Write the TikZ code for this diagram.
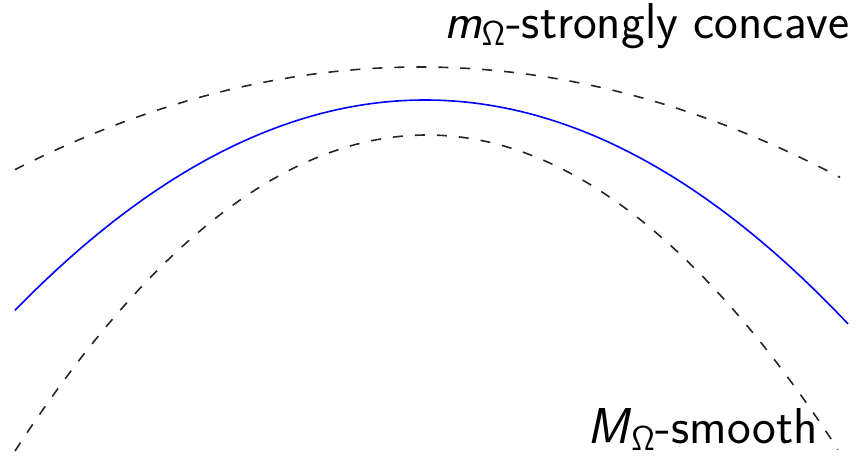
\documentclass[tikz,border=0pt]{standalone}
\begin{document}
\begin{tikzpicture}[x=0.5pt,y=-0.5pt,
  dashcurve/.style={draw=black!85, line width=0.8pt, dash pattern=on 5pt off 6pt},
  bluecurve/.style={draw=blue, line width=0.8pt},
  lbl/.style={inner sep=0pt, font=\sffamily\fontsize{25.2}{30}\selectfont}]
\useasboundingbox (0,0) rectangle (860,466);
\draw[bluecurve] plot[domain=15:848, samples=120, smooth] (\x, {100 + 0.00125*(\x-425)*(\x-425)});
\draw[dashcurve] plot[domain=15:840, samples=120, smooth] (\x, {67 + 0.00062*(\x-420)*(\x-420)});
\draw[dashcurve] plot[domain=15:838, samples=120, smooth] (\x, {135 + 0.00186*(\x-427)*(\x-427)});
\node[lbl, anchor=base east] (top) at (850,38) {\textit{m}$_{\mathsf{\Omega}}$-strongly concave};
\node[lbl, anchor=base east] (bot) at (818,443) {\textit{M}$_{\mathsf{\Omega}}$-smooth};
\end{tikzpicture}
\end{document}
